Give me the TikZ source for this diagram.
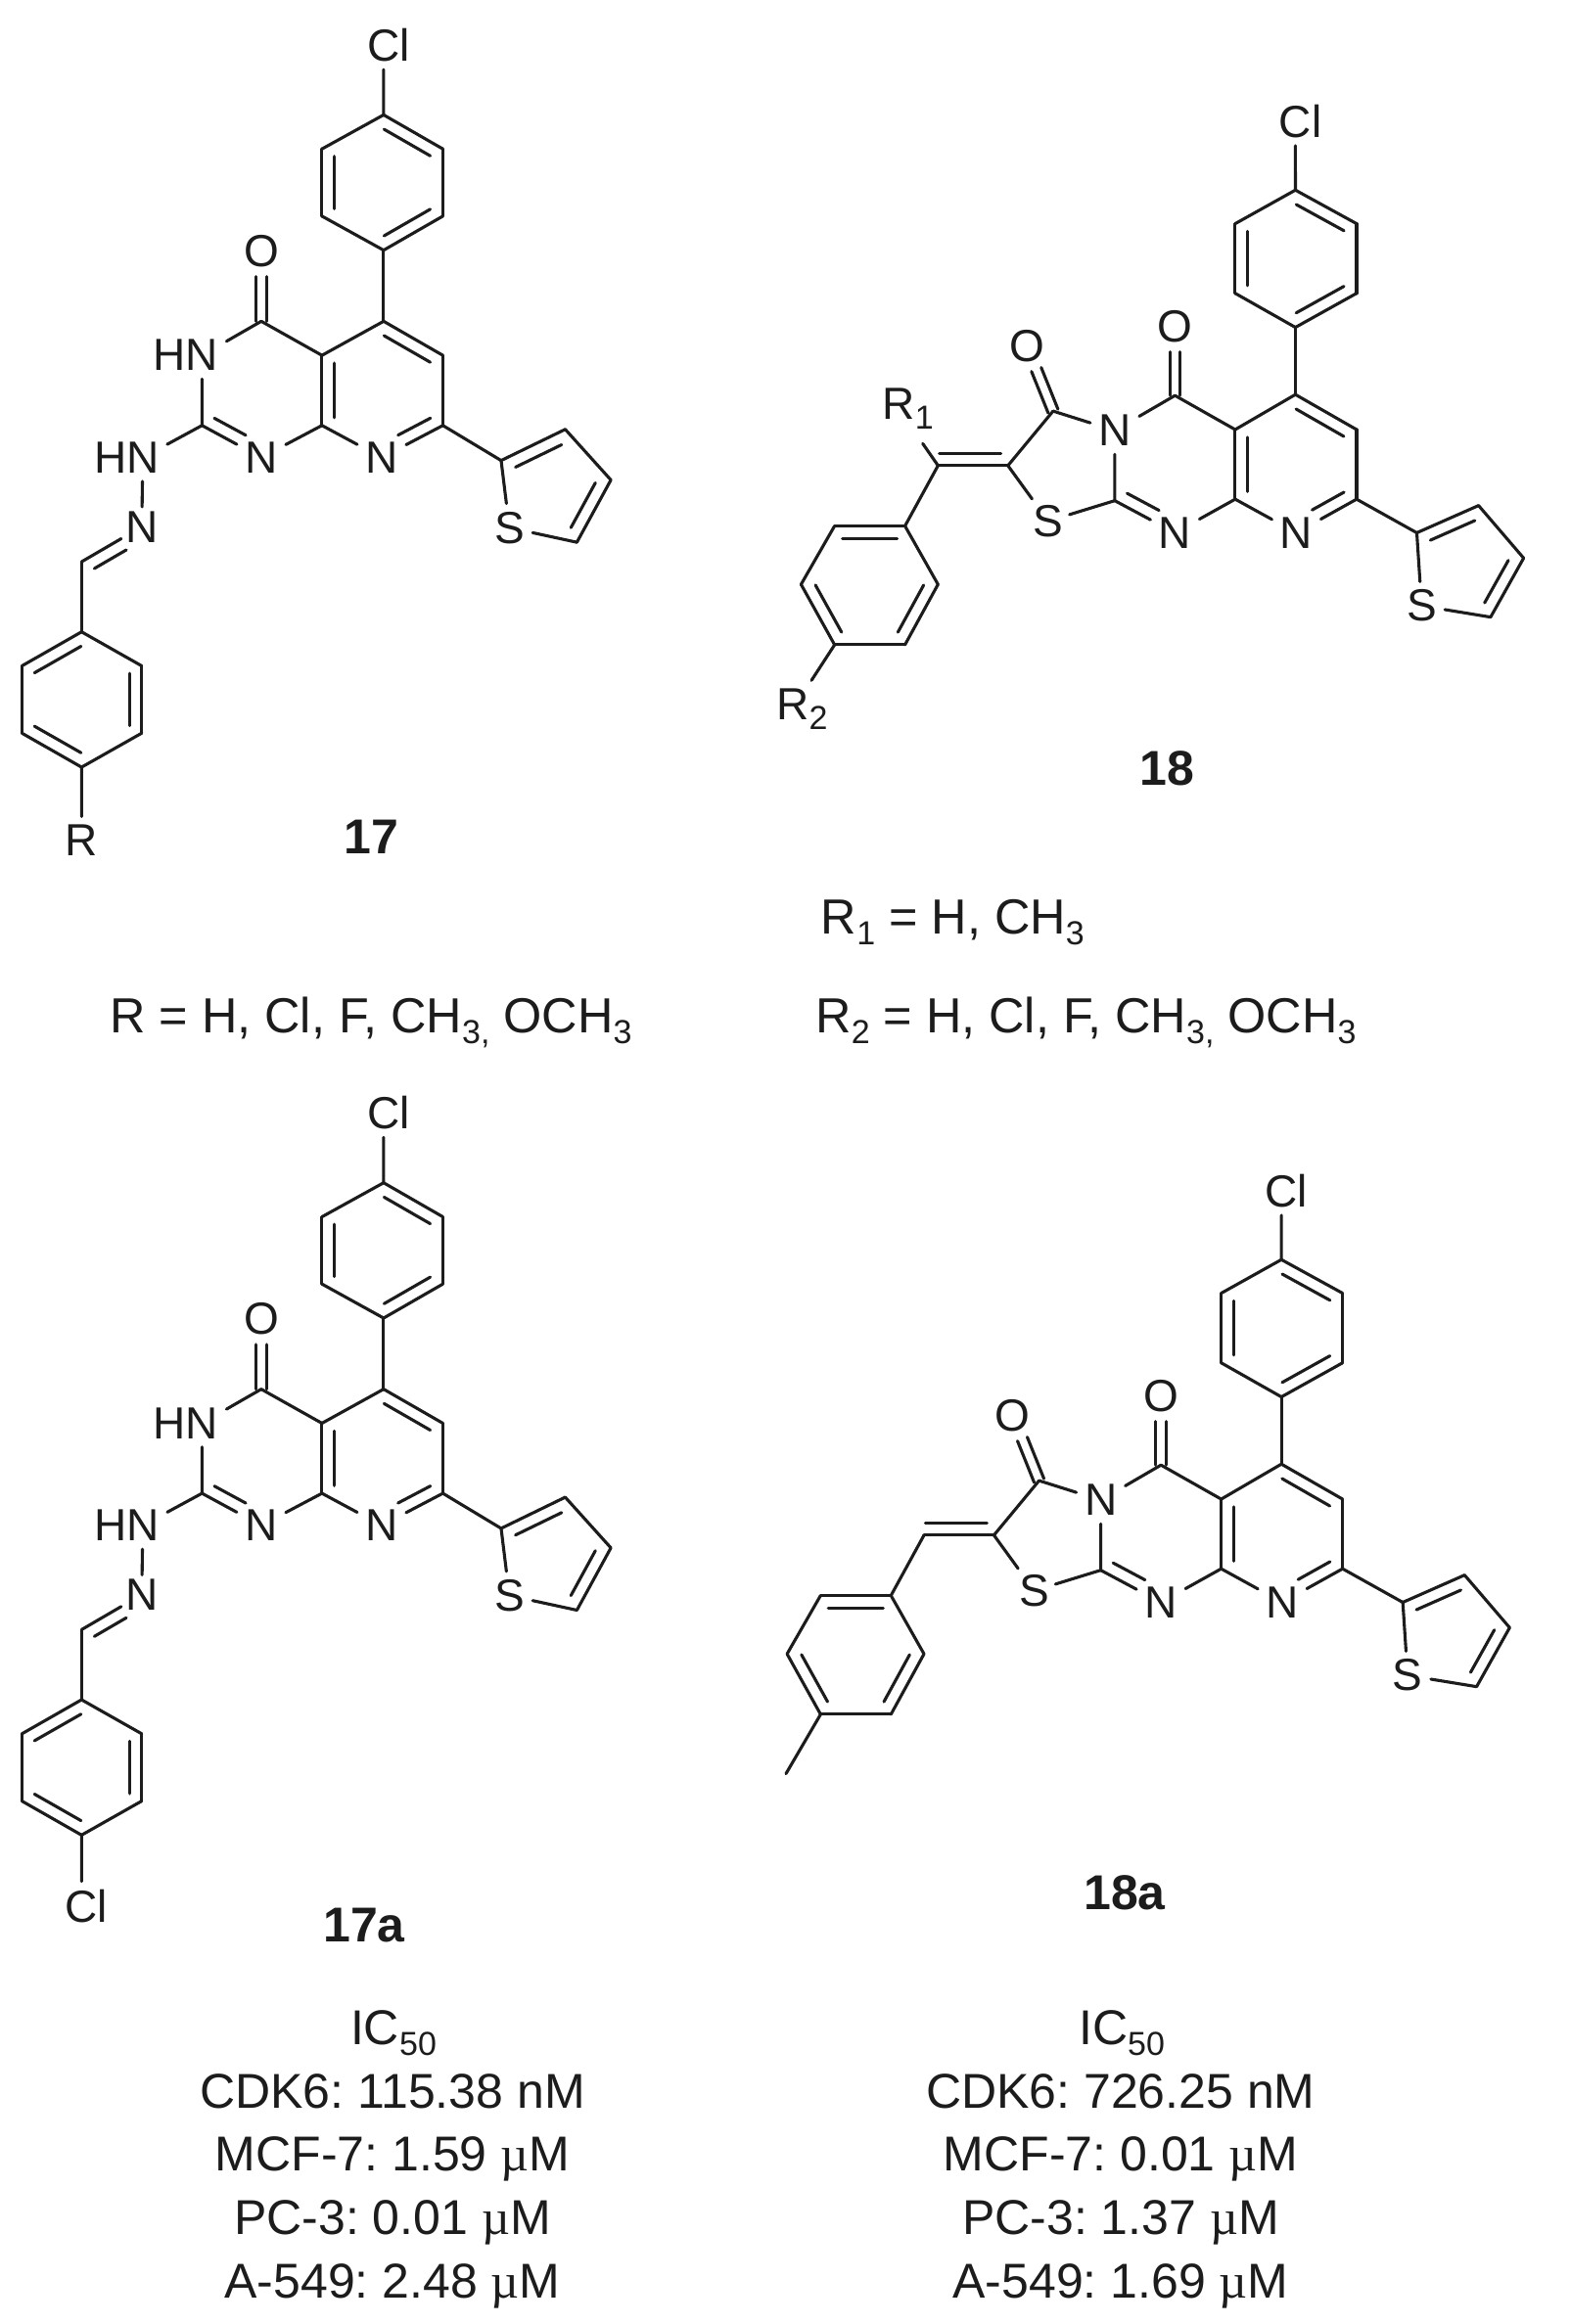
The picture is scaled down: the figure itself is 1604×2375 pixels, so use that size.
\documentclass[tikz,border=0pt]{standalone}
\usepackage{fontspec}
\setmainfont{Liberation Sans}
\newfontfamily\greekf{Liberation Serif}
\usetikzlibrary{calc}
\definecolor{ink}{HTML}{1C1C1C}
\tikzset{
  bond/.style={draw=ink,line width=1.55pt,line cap=round,line join=round},
  atom/.style={inner sep=4pt,text=ink,font=\fontsize{23}{27}\selectfont},
  cmpd/.style={inner sep=0pt,anchor=base,text=ink,font=\fontsize{25}{29}\selectfont\bfseries},
  txt/.style={inner sep=0pt,anchor=base,text=ink,font=\fontsize{25}{30}\selectfont},
  txtl/.style={txt,anchor=base west,font=\fontsize{25.2}{30}\selectfont}
}
\newcommand{\sbs}[1]{\raisebox{-.22em}{\fontsize{17}{20}\selectfont #1}}
\newcommand{\mug}{{\greekf µ}}
\newcommand{\bd}[2]{\draw[bond] (#1) -- (#2);}
\newcommand{\dblb}[4]{\draw[bond] ($(#1)!#3!(#2)!6.3pt!90:(#2)$) -- ($(#2)!#4!(#1)!6.3pt!-90:(#1)$);}
\newcommand{\ring}[6]{\bd{#1}{#2}\bd{#2}{#3}\bd{#3}{#4}\bd{#4}{#5}\bd{#5}{#6}\bd{#6}{#1}}
\newcommand{\dblc}[2]{%
  \draw[bond,shorten >=13pt] ($(#1)!2.7pt!90:(#2)$) -- ($(#2)!2.7pt!-90:(#1)$);
  \draw[bond,shorten >=13pt] ($(#1)!2.7pt!-90:(#2)$) -- ($(#2)!2.7pt!90:(#1)$);}
% ---------- molecule family 17
\newcommand{\molA}[3]{%
\begin{scope}[shift={(0,#2)},xscale=.9923,yscale=.995,name prefix=#1-]
  \node[atom] (cl) at (395,46) {C\rlap{l}};
  \coordinate (a1) at (395,118);
  \coordinate (a2) at (331.5,153);
  \coordinate (a3) at (331.5,222);
  \coordinate (a4) at (395,257);
  \coordinate (a5) at (456,222);
  \coordinate (a6) at (456,153);
  \coordinate (c5) at (395,330);
  \coordinate (c6) at (456,365);
  \coordinate (c7) at (456,437);
  \node[atom] (n8) at (393,470) {N};
  \coordinate (c8a) at (331.5,437);
  \coordinate (c4a) at (331.5,365);
  \coordinate (c4) at (269,330);
  \node[atom] (o) at (269,258) {O};
  \node[atom] (n3) at (208,365) {\llap{H}N};
  \coordinate (c2) at (208,437);
  \node[atom] (n1) at (269,470) {N};
  \node[atom] (nh) at (147,470) {\llap{H}N};
  \node[atom,inner sep=2pt] (nn) at (146,541) {N};
  \coordinate (ch) at (84,577);
  \coordinate (b1) at (84,649);
  \coordinate (b2) at (22.5,684);
  \coordinate (b3) at (22.5,753);
  \coordinate (b4) at (84,788);
  \coordinate (b5) at (146,753);
  \coordinate (b6) at (146,684);
  \coordinate (t2) at (516,473);
  \coordinate (t3) at (582,441);
  \coordinate (t4) at (629,493);
  \coordinate (t5) at (594,557);
  \node[atom] (ts) at (524.5,542) {S};
  \ring{a1}{a2}{a3}{a4}{a5}{a6}
  \dblb{a6}{a1}{.11}{.11}\dblb{a2}{a3}{.11}{.11}\dblb{a4}{a5}{.11}{.11}
  \bd{cl}{a1}\bd{a4}{c5}
  \bd{c5}{c6}\bd{c6}{c7}\bd{c7}{n8}\bd{n8}{c8a}\bd{c8a}{c4a}\bd{c4a}{c5}
  \dblb{c6}{c5}{.11}{.11}\dblb{c4a}{c8a}{.11}{.11}\dblb{n8}{c7}{.36}{.11}
  \bd{c4a}{c4}\bd{c4}{n3}\bd{n3}{c2}\bd{c2}{n1}\bd{n1}{c8a}
  \dblb{c2}{n1}{.11}{.36}
  \dblc{c4}{o}
  \bd{c2}{nh}\bd{nh}{nn}\bd{nn}{ch}
  \dblb{nn}{ch}{.36}{.11}
  \bd{ch}{b1}
  \ring{b1}{b2}{b3}{b4}{b5}{b6}
  \dblb{b1}{b2}{.11}{.11}\dblb{b3}{b4}{.11}{.11}\dblb{b5}{b6}{.11}{.11}
  \bd{c7}{t2}\bd{t2}{t3}\bd{t3}{t4}\bd{t4}{t5}\bd{t5}{ts}\bd{ts}{t2}
  \dblb{t3}{t2}{.14}{.14}\dblb{t5}{t4}{.14}{.14}
  \node[atom] (sub) at (84,#3) {\molAsub};
  \bd{b4}{sub}
\end{scope}}
% ---------- molecule family 18
\newcommand{\molB}[3]{%
\begin{scope}[shift={(5.775+#2,.25+#3)},xscale=.9923,yscale=.995,name prefix=#1-]
  \node[atom] (cl) at (1328,124) {C\rlap{l}};
  \coordinate (a1) at (1328,195);
  \coordinate (a2) at (1266,229.5);
  \coordinate (a3) at (1266,301);
  \coordinate (a4) at (1328,336);
  \coordinate (a5) at (1391,301);
  \coordinate (a6) at (1391,229.5);
  \coordinate (c5) at (1328,405);
  \coordinate (c6) at (1391,441);
  \coordinate (c7) at (1391,512.5);
  \node[atom] (n8) at (1329,547) {N};
  \coordinate (c8a) at (1266,512.5);
  \coordinate (c4a) at (1266,441);
  \coordinate (c4) at (1204,406);
  \node[atom] (o) at (1204,335) {O};
  \node[atom] (n3) at (1142,442) {N};
  \coordinate (c2) at (1142,514);
  \node[atom] (n1) at (1204,547) {N};
  \node[atom,inner sep=3pt] (s) at (1073.5,535) {S};
  \coordinate (cx) at (1032,478);
  \coordinate (c3) at (1078.5,422);
  \node[atom] (o2) at (1051.5,355) {O};
  \coordinate (cr) at (960,478);
  \coordinate (b1) at (926,540);
  \coordinate (b2) at (853.5,540);
  \coordinate (b3) at (819,600);
  \coordinate (b4) at (853.5,662);
  \coordinate (b5) at (926,662);
  \coordinate (b6) at (960,600);
  \coordinate (t2) at (1453,547);
  \coordinate (t3) at (1516.6,519);
  \coordinate (t4) at (1563,573);
  \coordinate (t5) at (1529,633.6);
  \node[atom] (ts) at (1458,622) {S};
  \ring{a1}{a2}{a3}{a4}{a5}{a6}
  \dblb{a6}{a1}{.11}{.11}\dblb{a2}{a3}{.11}{.11}\dblb{a4}{a5}{.11}{.11}
  \bd{cl}{a1}\bd{a4}{c5}
  \bd{c5}{c6}\bd{c6}{c7}\bd{c7}{n8}\bd{n8}{c8a}\bd{c8a}{c4a}\bd{c4a}{c5}
  \dblb{c6}{c5}{.11}{.11}\dblb{c4a}{c8a}{.11}{.11}\dblb{n8}{c7}{.36}{.11}
  \bd{c4a}{c4}\bd{c4}{n3}\bd{n3}{c2}\bd{c2}{n1}\bd{n1}{c8a}
  \dblb{c2}{n1}{.11}{.36}
  \dblc{c4}{o}\dblc{c3}{o2}
  \bd{c3}{n3}\bd{c3}{cx}\bd{cx}{s}\bd{s}{c2}
  \bd{cr}{cx}\dblb{cr}{cx}{.02}{.1}
  \bd{cr}{b1}
  \ring{b1}{b2}{b3}{b4}{b5}{b6}
  \dblb{b1}{b2}{.11}{.11}\dblb{b3}{b4}{.11}{.11}\dblb{b5}{b6}{.11}{.11}
  \bd{c7}{t2}\bd{t2}{t3}\bd{t3}{t4}\bd{t4}{t5}\bd{t5}{ts}\bd{ts}{t2}
  \dblb{t3}{t2}{.14}{.14}\dblb{t5}{t4}{.14}{.14}
\end{scope}}
\begin{document}
\frenchspacing
\begin{tikzpicture}[x=.5pt,y=-.5pt]
\useasboundingbox (0,0) rectangle (1604,2375);
\fill[white] (0,0) rectangle (1604,2375);
% 17
\def\molAsub{R}
\molA{m17}{0}{863}
\node[cmpd] (l17) at (379.6,872.5) {17};
% 17a
\def\molAsub{C\rlap{l}}
\molA{m17a}{1091.3}{861}
\node[cmpd] (l17a) at (372,1984) {17a};
% 18
\molB{m18}{0}{0}
\node[atom,inner sep=7pt] (r1) at (918.2,418) {R\rlap{\sbs{1}}};
\node[atom] (r2) at (810,724.6) {R\rlap{\sbs{2}}};
\bd{m18-cr}{r1}
\bd{m18-b4}{r2}
\node[cmpd] (l18) at (1192,802.6) {18};
% 18a
\molB{m18a}{-14.3}{1093}
\coordinate (me) at (803,1812.6);
\bd{m18a-b4}{me}
\node[cmpd] (l18a) at (1149,1951) {18a};
% R-group lines
\node[txtl] (tr1) at (838.5,954.3) {R\sbs{1} = H, CH\sbs{3}};
\node[txtl] (tr) at (112,1055) {R = H, Cl, F, CH\sbs{3}\sbs{,} OCH\sbs{3}};
\node[txtl] (tr2) at (833,1055) {R\sbs{2} = H, Cl, F, CH\sbs{3}\sbs{,} OCH\sbs{3}};
% IC50 tables
\node[txt] (ica) at (402,2089) {IC\sbs{50}};
\node[txt] (ica1) at (401,2154) {CDK6: 115.38 nM};
\node[txt] (ica2) at (401,2218.5) {MCF-7: 1.59 \mug M};
\node[txt] (ica3) at (401,2283.5) {PC-3: 0.01 \mug M};
\node[txt] (ica4) at (401,2348.5) {A-549: 2.48 \mug M};
\node[txt] (icb) at (1146,2089) {IC\sbs{50}};
\node[txt] (icb1) at (1145,2154) {CDK6: 726.25 nM};
\node[txt] (icb2) at (1145,2218.5) {MCF-7: 0.01 \mug M};
\node[txt] (icb3) at (1145,2283.5) {PC-3: 1.37 \mug M};
\node[txt] (icb4) at (1145,2348.5) {A-549: 1.69 \mug M};
\end{tikzpicture}
\end{document}
